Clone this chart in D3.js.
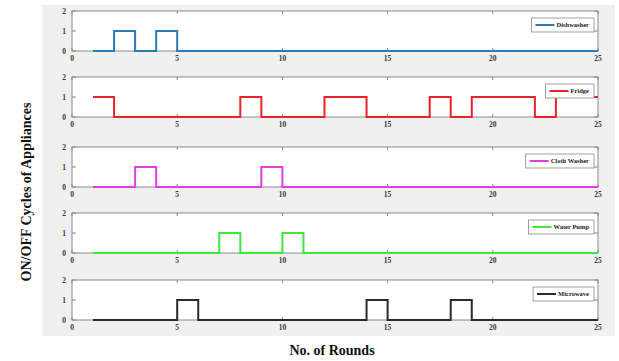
<!DOCTYPE html>
<html><head><meta charset="utf-8">
<script src="https://cdn.jsdelivr.net/npm/d3@7"></script>
<style>body{margin:0;background:#fff}svg{display:block}</style>
</head><body>
<script>
const rounds = d3.range(1, 26);
const appliances = ["Dishwasher", "Fridge", "Cloth Washer", "Water Pump", "Microwave"];
const dishwasher  = [0,1,0,1,0,0,0,0,0,0,0,0,0,0,0,0,0,0,0,0,0,0,0,0,0];
const fridge      = [1,0,0,0,0,0,0,1,0,0,0,1,1,0,0,0,1,0,1,1,1,0,1,1,1];
const clothWasher = [0,0,1,0,0,0,0,0,1,0,0,0,0,0,0,0,0,0,0,0,0,0,0,0,0];
const waterPump   = [0,0,0,0,0,0,1,0,0,1,0,0,0,0,0,0,0,0,0,0,0,0,0,0,0];
const microwave   = [0,0,0,0,1,0,0,0,0,0,0,0,0,1,0,0,0,1,0,0,0,0,0,0,0];
const xTicks = [0,5,10,15,20,25];
const yTicks = [0,1,2];

const series = [dishwasher, fridge, clothWasher, waterPump, microwave];
const colors = ["#2b7bb4", "#e8222e", "#e03ee0", "#3be83b", "#2a2a2a"];
const tops = [11, 77, 147, 213, 280];
const ph = 40;

const W = 619, H = 361;
const svg = d3.select("body").append("svg").attr("width", W).attr("height", H);
svg.append("rect").attr("x", 42).attr("y", 5).attr("width", 573).attr("height", 331).attr("fill", "#f0f0f0");

const x = d3.scaleLinear().domain([0, 25]).range([72, 598]);
const font = "'Liberation Serif', 'Times New Roman', serif";

series.forEach((vals, i) => {
  const top = tops[i];
  const y = d3.scaleLinear().domain([0, 2]).range([top + ph, top]);
  const g = svg.append("g");
  g.append("rect").attr("x", x(0)).attr("y", top).attr("width", x(25) - x(0)).attr("height", ph)
    .attr("fill", "#fff").attr("stroke", "#8a8a8a").attr("stroke-width", 1);
  xTicks.forEach(t => {
    g.append("line").attr("x1", x(t)).attr("x2", x(t)).attr("y1", top + ph).attr("y2", top + ph - 3).attr("stroke", "#8a8a8a");
    g.append("line").attr("x1", x(t)).attr("x2", x(t)).attr("y1", top).attr("y2", top + 3).attr("stroke", "#8a8a8a");
    g.append("text").attr("x", x(t)).attr("y", top + ph + 9.5).attr("text-anchor", "middle")
      .attr("font-family", font).attr("font-weight", "bold").attr("font-size", 7.5).attr("fill", "#3a3a3a").text(t);
  });
  yTicks.forEach(t => {
    g.append("line").attr("x1", x(0)).attr("x2", x(0) + 4).attr("y1", y(t)).attr("y2", y(t)).attr("stroke", "#8a8a8a");
    g.append("line").attr("x1", x(25)).attr("x2", x(25) - 4).attr("y1", y(t)).attr("y2", y(t)).attr("stroke", "#8a8a8a");
    g.append("text").attr("x", x(0) - 6).attr("y", y(t) + 2.7).attr("text-anchor", "end")
      .attr("font-family", font).attr("font-weight", "bold").attr("font-size", 7.5).attr("fill", "#3a3a3a").text(t);
  });
  const line = d3.line().x((d, j) => x(rounds[j])).y(d => y(d)).curve(d3.curveStepAfter);
  g.append("path").datum(vals).attr("d", line).attr("fill", "none")
    .attr("stroke", colors[i]).attr("stroke-width", 2);
  const lg = g.append("g");
  const txt = lg.append("text").attr("font-family", font).attr("font-weight", "bold").attr("font-size", 6.5)
    .attr("fill", "#222").text(appliances[i]);
  const tw = txt.node().getComputedTextLength();
  const right = 594, lh = 14, ly = top + 7;
  const left = right - (tw + 30);
  lg.insert("rect", "text").attr("x", left).attr("y", ly).attr("width", right - left).attr("height", lh)
    .attr("fill", "#fff").attr("stroke", "#888").attr("stroke-width", 0.8);
  lg.append("line").attr("x1", left + 4).attr("x2", left + 23).attr("y1", ly + lh / 2).attr("y2", ly + lh / 2)
    .attr("stroke", colors[i]).attr("stroke-width", 2);
  txt.attr("x", left + 25).attr("y", ly + lh / 2 + 2.3);
});

svg.append("text").attr("transform", "translate(31,192) rotate(-90)").attr("text-anchor", "middle")
  .attr("font-family", font).attr("font-weight", "bold").attr("font-size", 14).attr("fill", "#111")
  .text("ON/OFF Cycles of Appliances");
svg.append("text").attr("x", 332).attr("y", 355).attr("text-anchor", "middle")
  .attr("font-family", font).attr("font-weight", "bold").attr("font-size", 14).attr("fill", "#111")
  .text("No. of Rounds");
</script>
</body></html>
